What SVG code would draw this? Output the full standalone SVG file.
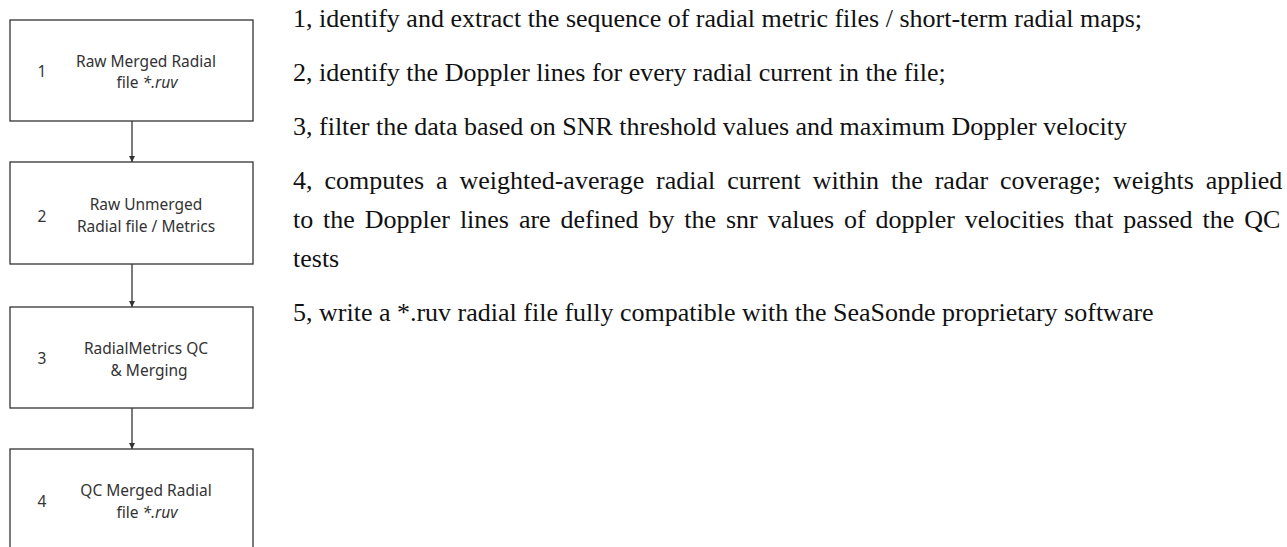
<svg xmlns="http://www.w3.org/2000/svg" width="1287" height="547" viewBox="0 0 1287 547">
<style>
.box{fill:#fff;stroke:#333;stroke-width:1.3}
.num{font-family:"Noto Sans","Open Sans",sans-serif;font-size:15.5px;fill:#333;text-anchor:middle}
.lbl{font-family:"Noto Sans","Open Sans",sans-serif;font-size:15.5px;fill:#333;text-anchor:middle}
.conn{stroke:#333;stroke-width:1.3;fill:none}
.desc{font-family:"Liberation Serif","Times New Roman",serif;font-size:26px;fill:#111}
</style>
<defs>
<marker id="arr" viewBox="0 0 10 10" refX="10" refY="5" markerWidth="6" markerHeight="6" markerUnits="userSpaceOnUse" orient="auto">
<path d="M0,0 L10,5 L0,10 z" fill="#333"/>
</marker>
</defs>
<rect width="1287" height="547" fill="#fff"/>
<g id="connectors">
<line class="conn" x1="132" y1="121" x2="132" y2="162" marker-end="url(#arr)"/>
<line class="conn" x1="132" y1="264" x2="132" y2="307" marker-end="url(#arr)"/>
<line class="conn" x1="132" y1="408" x2="132" y2="449" marker-end="url(#arr)"/>
</g>
<g id="node1">
<rect class="box" x="10" y="20" width="243" height="101"/>
<text class="num" x="42" y="77">1</text>
<text class="lbl" x="146" y="67">Raw Merged Radial</text>
<text class="lbl" x="147" y="88">file <tspan font-style="italic">*.ruv</tspan></text>
</g>
<g id="node2">
<rect class="box" x="10" y="162" width="243" height="102"/>
<text class="num" x="42" y="222">2</text>
<text class="lbl" x="146" y="210">Raw Unmerged</text>
<text class="lbl" x="146" y="232">Radial file / Metrics</text>
</g>
<g id="node3">
<rect class="box" x="10" y="307" width="243" height="101"/>
<text class="num" x="42" y="364">3</text>
<text class="lbl" x="146" y="354">RadialMetrics QC</text>
<text class="lbl" x="149" y="376">&amp; Merging</text>
</g>
<g id="node4">
<rect class="box" x="10" y="449" width="243" height="120"/>
<text class="num" x="42" y="507">4</text>
<text class="lbl" x="146" y="496">QC Merged Radial</text>
<text class="lbl" x="147" y="518">file <tspan font-style="italic">*.ruv</tspan></text>
</g>
<g id="description">
<text class="desc" x="293" y="27">1, identify and extract the sequence of radial metric files / short-term radial maps;</text>
<text class="desc" x="293" y="81">2, identify the Doppler lines for every radial current in the file;</text>
<text class="desc" x="293" y="135">3, filter the data based on SNR threshold values and maximum Doppler velocity</text>
<text class="desc" x="293" y="189" word-spacing="5.4">4, computes a weighted-average radial current within the radar coverage; weights applied</text>
<text class="desc" x="293" y="228" word-spacing="3.4">to the Doppler lines are defined by the snr values of doppler velocities that passed the QC</text>
<text class="desc" x="293" y="267">tests</text>
<text class="desc" x="293" y="321">5, write a *.ruv radial file fully compatible with the SeaSonde proprietary software</text>
</g>
</svg>
